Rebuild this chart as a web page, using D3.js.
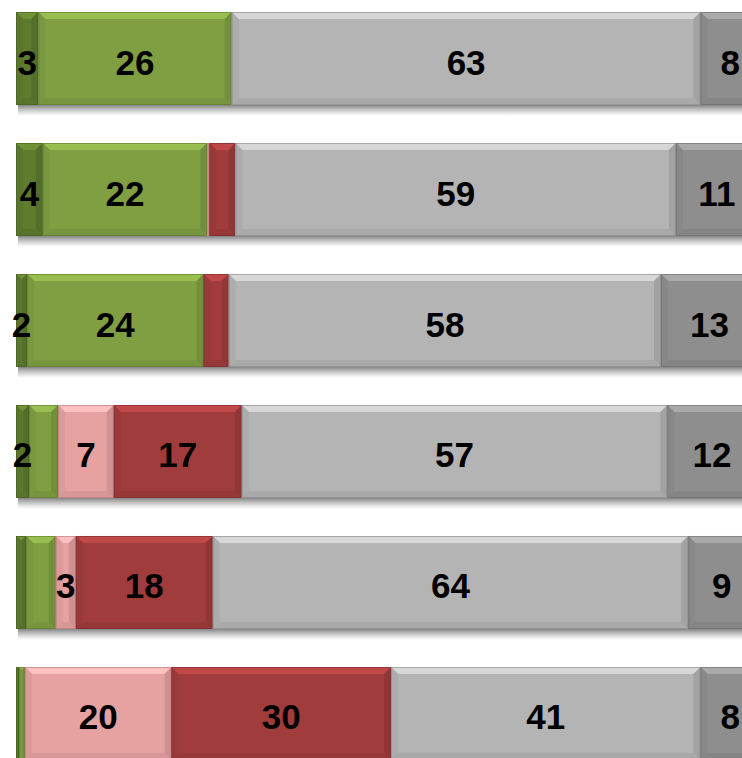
<!DOCTYPE html>
<html>
<head>
<meta charset="utf-8">
<script src="https://cdn.jsdelivr.net/npm/d3@7"></script>
<style>
  body { margin: 0; background: #fff; }
  svg { display: block; }
</style>
</head>
<body>
<svg id="chart" width="742" height="758"></svg>
<script>
// rows, top to bottom
var rows = ["r1", "r2", "r3", "r4", "r5", "r6"];
// segment series, left to right
var keys = ["darkGreen", "lightGreen", "pink", "red", "lightGray", "darkGray"];
var colors = ["#5e7b2e", "#7f9f42", "#e6a1a1", "#a13c3c", "#b4b4b4", "#8e8e8e"];

// values per series
var darkGreen  = [3,  3.6, 1.5,  1.75, 1.35, 0.4];
var lightGreen = [26, 22.1, 23.7, 3.9, 4.0,  0.8];
var pink       = [0,  0.3, 0,    7.5,  2.7,  19.7];
var red        = [0,  3.5, 3.4,  17.2, 18.4, 29.5];
var lightGray  = [63, 59.2, 58.1, 57.2, 63.9, 41.6];
var darkGray   = [8,  11,  13,   12,   9,    8];

// printed labels per row ("" = no label)
var labels = [
  ["3", "26", "", "", "63", "8"],
  ["4", "22", "", "", "59", "11"],
  ["2", "24", "", "", "58", "13"],
  ["2", "", "7", "17", "57", "12"],
  ["", "", "3", "18", "64", "9"],
  ["", "", "20", "30", "41", "8"]
];

var series = [darkGreen, lightGreen, pink, red, lightGray, darkGray];
var data = rows.map(function (r, i) {
  var o = { row: r };
  keys.forEach(function (k, j) { o[k] = series[j][i]; });
  return o;
});

var svg = d3.select("#chart"),
  width = +svg.attr("width"),
  height = +svg.attr("height");

var x = d3.scaleLinear().domain([0, 100]).range([16, 760]);
var y = d3.scaleBand().domain(rows).range([12, 760]).paddingInner(0.29).paddingOuter(0);
var z = d3.scaleOrdinal().domain(keys).range(colors);

var stacked = d3.stack().keys(keys)(data);

var defs = svg.append("defs");
var sg = defs.append("linearGradient").attr("id", "shadow")
  .attr("x1", 0).attr("y1", 0).attr("x2", 0).attr("y2", 1);
sg.append("stop").attr("offset", "0%").attr("stop-color", "#666").attr("stop-opacity", 0.8);
sg.append("stop").attr("offset", "100%").attr("stop-color", "#999").attr("stop-opacity", 0);

// shadow under each bar
svg.append("g").selectAll("rect")
  .data(data)
  .join("rect")
  .attr("x", x(0) + 2)
  .attr("y", d => y(d.row) + y.bandwidth())
  .attr("width", d => x(d3.sum(keys, k => d[k])) - x(0))
  .attr("height", 11)
  .attr("fill", "url(#shadow)");

function bevel(g, x0, x1, y0, y1, color) {
  var w = x1 - x0, b = Math.min(7, w / 2.2);
  var c = d3.color(color);
  g.append("rect").attr("x", x0).attr("y", y0).attr("width", w).attr("height", y1 - y0)
    .attr("fill", color);
  g.append("polygon")
    .attr("points", [[x0, y0], [x1, y0], [x1 - b, y0 + b], [x0 + b, y0 + b]].join(" "))
    .attr("fill", c.brighter(0.5));
  g.append("polygon")
    .attr("points", [[x0, y0], [x0 + b, y0 + b], [x0 + b, y1 - b], [x0, y1]].join(" "))
    .attr("fill", c.darker(0.12));
  g.append("polygon")
    .attr("points", [[x1, y0], [x1, y1], [x1 - b, y1 - b], [x1 - b, y0 + b]].join(" "))
    .attr("fill", c.darker(0.3));
  g.append("polygon")
    .attr("points", [[x0, y1], [x0 + b, y1 - b], [x1 - b, y1 - b], [x1, y1]].join(" "))
    .attr("fill", c.darker(0.18));
  g.append("rect").attr("x", x0 + 0.5).attr("y", y0 + 0.5).attr("width", Math.max(0, w - 1)).attr("height", y1 - y0 - 1)
    .attr("fill", "none").attr("stroke", c.darker(0.8)).attr("stroke-width", 1).attr("stroke-opacity", 0.6);
}

var layers = svg.append("g").selectAll("g")
  .data(stacked)
  .join("g");

layers.each(function (s) {
  var g = d3.select(this);
  s.forEach(function (d) {
    if (d[1] - d[0] <= 0) return;
    var y0 = y(d.data.row);
    bevel(g.append("g"), x(d[0]), x(d[1]), y0, y0 + y.bandwidth(), z(s.key));
  });
});

// value labels
var lab = svg.append("g")
  .attr("font-family", "Liberation Sans, Arial, sans-serif")
  .attr("font-weight", "bold")
  .attr("font-size", 35)
  .attr("text-anchor", "middle")
  .attr("fill", "#000");

stacked.forEach(function (s, j) {
  s.forEach(function (d, i) {
    var t = labels[i][j];
    if (!t) return;
    lab.append("text")
      .attr("x", (x(d[0]) + x(d[1])) / 2)
      .attr("y", y(d.data.row) + y.bandwidth() / 2 + 16)
      .text(t);
  });
});
</script>
</body>
</html>
